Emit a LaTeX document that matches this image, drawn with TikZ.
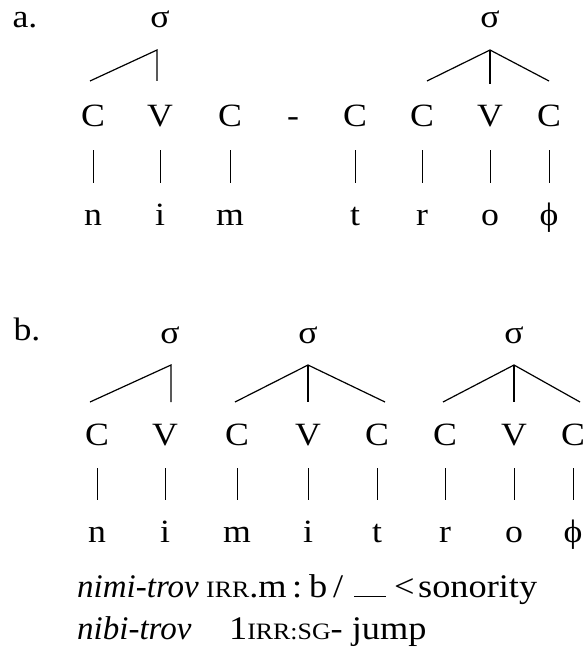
\documentclass[tikz,border=0pt]{standalone}
\usepackage{fontspec}
\setmainfont{Liberation Serif}
\newfontfamily\widerm{Liberation Serif}[FakeStretch=1.1]
\newcommand\treefs{\widerm\fontsize{32.5}{38}\selectfont}
\newcommand\glossfs{\widerm\fontsize{33}{38}\selectfont}
\newcommand\fakesc[1]{{\fontsize{23.5}{28}\selectfont #1}}
\newcommand\itx[1]{{\normalfont\fontsize{33}{38}\selectfont\itshape #1}}
\begin{document}
\begin{tikzpicture}[x=1pt,y=-1pt,
  seg/.style={font=\treefs, inner sep=0pt, anchor=base, text height=21pt, text depth=0pt},
  lab/.style={font=\treefs, inner sep=0pt, anchor=base},
  gloss/.style={font=\glossfs, inner sep=0pt, anchor=base west},
  sylline/.style={line width=1.2pt},
  assoc/.style={line width=0.8pt, shorten <=23pt, shorten >=21pt}]
\useasboundingbox (0,0) rectangle (587,650);
% ---------- a ----------
\node[lab] (la) at (25,28) {a.};
\node[lab] (sa1) at (160,28) {σ};
\node[lab] (sa2) at (490,28) {σ};
\foreach \n/\x/\t in {1/93/C,2/160/V,3/230/C,4/355/C,5/422/C,6/490/V,7/549/C}
  \node[seg] (aC\n) at (\x,127) {\t};
\node[lab] (ahy) at (293,127) {-};
\foreach \n/\x/\t in {1/93/n,2/160/i,3/230/m,4/355/t,5/422/r,6/490/o,7/549/ϕ}
  \node[seg] (aS\n) at (\x,225) {\t};
\foreach \n in {1,2,3,4,5,6,7}
  \draw[assoc] (aC\n.south) -- (aS\n.north);
\coordinate (apA1) at (157,50);
\coordinate (apA2) at (490,50);
\coordinate (eA1) at (90,81);
\coordinate (eA2) at (157,81);
\coordinate (eA5) at (427,81);
\coordinate (eA6) at (490,84);
\coordinate (eA7) at (549,81);
\draw[sylline] (eA1) -- (apA1) -- (eA2);
\draw[sylline] (eA5) -- (apA2) -- (eA7);
\draw[sylline] (apA2) -- (eA6);
% ---------- b ----------
\node[lab] (lb) at (27,340) {b.};
\node[lab] (sb1) at (170,343) {σ};
\node[lab] (sb2) at (308,343) {σ};
\node[lab] (sb3) at (514,343) {σ};
\foreach \n/\x/\t in {1/97/C,2/165/V,3/237/C,4/308/V,5/377/C,6/445/C,7/514/V,8/573/C}
  \node[seg] (bC\n) at (\x,445) {\t};
\foreach \n/\x/\t in {1/97/n,2/165/i,3/237/m,4/308/i,5/377/t,6/445/r,7/514/o,8/573/ϕ}
  \node[seg] (bS\n) at (\x,542) {\t};
\foreach \n in {1,...,8}
  \draw[assoc] (bC\n.south) -- (bS\n.north);
\coordinate (apB1) at (171,365);
\coordinate (apB2) at (308,365);
\coordinate (apB3) at (514,365);
\coordinate (eB1) at (90,402);
\coordinate (eB2) at (171,402);
\coordinate (eB3) at (235,402);
\coordinate (eB4) at (308,402);
\coordinate (eB5) at (385,402);
\coordinate (eB6) at (443,402);
\coordinate (eB7) at (514,402);
\coordinate (eB8) at (580,402);
\draw[sylline] (eB1) -- (apB1) -- (eB2);
\draw[sylline] (eB3) -- (apB2) -- (eB5);
\draw[sylline] (apB2) -- (eB4);
\draw[sylline] (eB6) -- (apB3) -- (eB8);
\draw[sylline] (apB3) -- (eB7);
% ---------- gloss ----------
\node[gloss] (g1a) at (77,597) {\itx{nimi-trov}};
\node[gloss] (g1b) at (206,597) {\fakesc{IRR}.m};
\node[gloss] (g1k) at (292,597) {:};
\node[gloss] (g1v) at (309,597) {b};
\node[gloss] (g1s) at (333,597) {/};
\node[gloss] (g1c) at (354,597) {\rule{32pt}{1.4pt}};
\node[gloss] (g1d) at (394,597) {<};
\node[gloss] (g1e) at (418,597) {sonority};
\node[gloss] (g2a) at (77,639) {\itx{nibi-trov}};
\node[gloss] (g2b) at (229,639) {1\fakesc{IRR:SG}- jump};
\end{tikzpicture}
\end{document}
